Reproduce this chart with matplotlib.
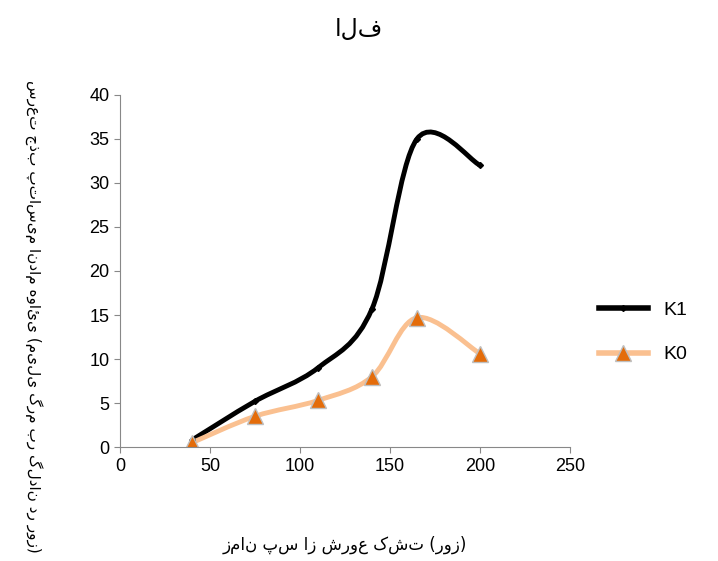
import matplotlib.pyplot as plt
import numpy as np
from matplotlib.path import Path
from matplotlib.patches import PathPatch
from matplotlib.lines import Line2D

days = [40, 75, 110, 140, 165, 200]
k1 = [0.8, 5.2, 9.0, 15.7, 35.0, 32.0]
k0 = [0.5, 3.5, 5.3, 8.0, 14.7, 10.6]

plt.rcParams['font.family'] = ['Liberation Sans', 'DejaVu Sans']


def smooth_path(xs, ys):
    # Catmull-Rom style Bezier, like Excel's smoothed line
    pts = np.column_stack([xs, ys]).astype(float)
    verts = [pts[0]]
    codes = [Path.MOVETO]
    n = len(pts)
    for i in range(n - 1):
        p0 = pts[i - 1] if i > 0 else pts[i]
        p1, p2 = pts[i], pts[i + 1]
        p3 = pts[i + 2] if i + 2 < n else pts[i + 1]
        c1 = p1 + (p2 - p0) / 6
        c2 = p2 - (p3 - p1) / 6
        verts += [c1, c2, p2]
        codes += [Path.CURVE4] * 3
    return Path(verts, codes)


fig = plt.figure(figsize=(7.18, 5.61), dpi=100)
ax = fig.add_axes([0.167, 0.203, 0.627, 0.628])

ax.add_patch(PathPatch(smooth_path(days, k1), fill=False, color='black', lw=3.5))
ax.plot(days, k1, ls='none', marker='D', ms=3, color='black')
ax.add_patch(PathPatch(smooth_path(days, k0), fill=False, color='#fac090', lw=3.5))
ax.plot(days, k0, ls='none', marker='^', ms=11, mfc='#e46c0a', mec='#bfbfbf')

ax.set_xlim(0, 250)
ax.set_ylim(0, 40)
ax.set_xticks(range(0, 251, 50))
ax.set_yticks(range(0, 41, 5))
ax.tick_params(labelsize=13, direction='out', length=4, color='#888888')
for s in ['top', 'right']:
    ax.spines[s].set_visible(False)
ax.spines['left'].set_color('#888888')
ax.spines['bottom'].set_color('#888888')

ax.set_xlabel('زمان پس از شروع کشت (روز)', fontsize=12, labelpad=44,
              family=['DejaVu Sans'])
ax.set_ylabel('سرعت جذب پتاسیم اندام هوائی (میلی گرم بر گلدان در روز)', fontsize=11,
              rotation=-90, family=['DejaVu Sans'])
ax.yaxis.set_label_coords(-0.21, 0.37)
fig.text(0.5, 0.935, 'الف', fontsize=17, ha='center', family=['DejaVu Sans'])

handles = [Line2D([], [], color='black', lw=4, marker='D', ms=3),
           Line2D([], [], color='#fac090', lw=4, marker='^', ms=11, mfc='#e46c0a', mec='#bfbfbf')]
fig.legend(handles, ['K1', 'K0'], loc='center left', bbox_to_anchor=(0.81, 0.408),
           frameon=False, handlelength=2.5, labelspacing=1.4,
           prop={'family': 'Liberation Sans', 'size': 14})

fig.savefig('out.png', dpi=100)
